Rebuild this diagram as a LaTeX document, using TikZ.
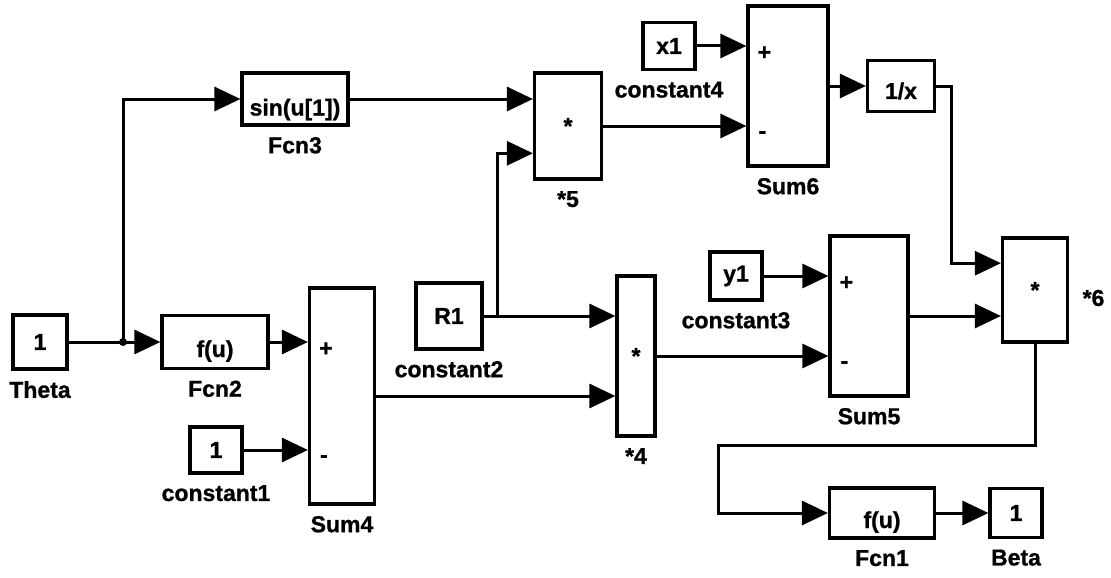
\documentclass[tikz,border=0pt]{standalone}
\usepackage{fontspec}
\setmainfont{Liberation Sans}[FakeBold=1]
\usetikzlibrary{arrows.meta,calc}

\begin{document}
\begin{tikzpicture}[x=1pt, y=-1pt,
    every node/.style={font=\fontsize{23}{27}\selectfont\bfseries},
    every label/.style={label distance=7pt},
    blk/.style 2 args={draw, line width=3.2pt, inner sep=0pt, minimum width=#1, minimum height=#2},
    low/.style={text height=#1, text depth=0pt},
    line/.style={line width=3pt},
    wire/.style={line width=3pt, -{Triangle[length=26pt,width=24pt]}}]
    \useasboundingbox (0,0) rectangle (1111,578);
    \node[blk={54pt}{54pt}, label=below:Theta] (theta) at (40,342) {1};
    \node[blk={106pt}{53pt}, low=30pt, label=below:Fcn2] (fcn2) at (215,342) {f(u)};
    \node[blk={65pt}{216pt}, label=below:Sum4] (sum4) at (342,396) {};
    \node[blk={52pt}{46pt}, label=below:constant1] (const1) at (216,450) {1};
    \node[blk={106pt}{52pt}, low=33pt, label=below:Fcn3] (fcn3) at (295,99) {sin(u[1])};
    \node[blk={67pt}{106pt}, label=below:*5] (mul5) at (568,126) {*};
    \node[blk={66pt}{66pt}, label=below:constant2] (r1) at (449,316) {R1};
    \node[blk={38pt}{160pt}, label=below:*4] (mul4) at (636,356) {*};
    \node[blk={52pt}{48pt}, label=below:constant3] (y1) at (736,276) {y1};
    \node[blk={78pt}{160pt}, label=below:Sum5] (sum5) at (869,316) {};
    \node[blk={52pt}{47pt}, label=below:constant4] (x1) at (669,46) {x1};
    \node[blk={80pt}{160pt}, label=below:Sum6] (sum6) at (788,86) {};
    \node[blk={67pt}{51pt}, low=26pt] (recip) at (901,86) {1/x};
    \node[blk={65pt}{104pt}, label={[label distance=10pt, yshift=-8pt]right:*6}] (mul6) at (1035,290) {*};
    \node[blk={105pt}{50pt}, low=30pt, label=below:Fcn1] (fcn1) at (882,513) {f(u)};
    \node[blk={52pt}{49pt}, label=below:Beta] (beta) at (1016,513) {1};
    \foreach \s in {sum4,sum5,sum6} {
        \node (\s-p) at ($(\s.north west)!.25!(\s.south west)+(18,8)$) {+};
        \node (\s-m) at ($(\s.north west)!.75!(\s.south west)+(16,8)$) {-};
    }
    \coordinate (split) at (123,342);
    \coordinate (rsplit) at (497,316);
    \coordinate (bend) at (718,445);
    \draw[line] (theta) -- (split);
    \fill (split) circle (4);
    \draw[wire] (split) -- (fcn2);
    \draw[wire] (split) |- (fcn3.west);
    \draw[wire] (fcn2) -- (fcn2 -| sum4.west);
    \draw[wire] (const1) -- (const1 -| sum4.west);
    \draw[wire] (fcn3) -- (fcn3 -| mul5.west);
    \draw[wire] (sum4) -- (sum4 -| mul4.west);
    \draw[wire] (r1) -- (r1 -| mul4.west);
    \draw[wire] (rsplit) |- ($(mul5.north west)!.75!(mul5.south west)$);
    \draw[wire] (mul4) -- (mul4 -| sum5.west);
    \draw[wire] (y1) -- (y1 -| sum5.west);
    \draw[wire] (x1) -- (x1 -| sum6.west);
    \draw[wire] (mul5) -- (mul5 -| sum6.west);
    \draw[wire] (sum6) -- (recip);
    \draw[wire] (recip.east) -- ++(15,0) |- ($(mul6.north west)!.25!(mul6.south west)$);
    \draw[wire] (sum5) -- (sum5 -| mul6.west);
    \draw[wire] (mul6.south) |- (bend) |- (fcn1.west);
    \draw[wire] (fcn1) -- (beta);
\end{tikzpicture}
\end{document}
